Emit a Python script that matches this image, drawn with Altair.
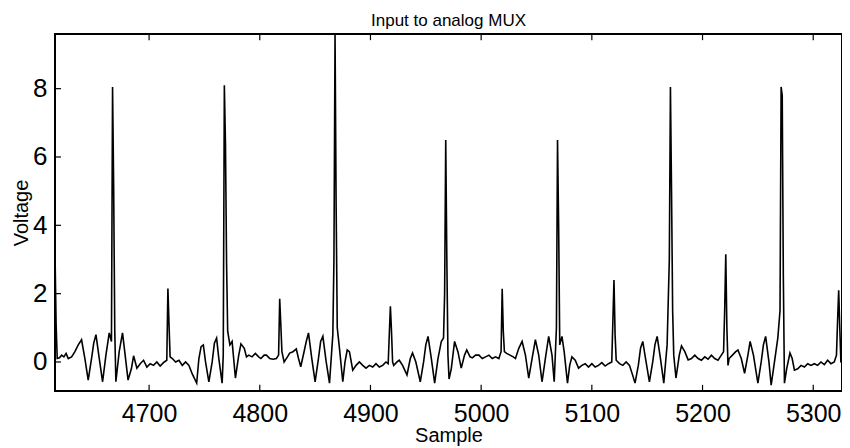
import altair as alt
import pandas as pd

# ---- data ----
sample = [
    4615, 4616, 4617, 4619, 4621, 4623, 4625, 4627, 4630, 4633, 4636, 4639, 4642, 4645, 4648, 4650,
    4652, 4655, 4658, 4661, 4664, 4666, 4667, 4668, 4669, 4670, 4673, 4676, 4678, 4681, 4684, 4686,
    4689, 4692, 4695, 4698, 4701, 4704, 4707, 4710, 4713, 4716, 4717, 4718, 4719, 4721, 4724, 4727,
    4730, 4733, 4736, 4739, 4743, 4745, 4747, 4749, 4751, 4754, 4757, 4759, 4761, 4763, 4766, 4767,
    4768, 4769, 4770, 4771, 4773, 4775, 4778, 4781, 4783, 4786, 4788, 4790, 4793, 4796, 4799, 4801,
    4804, 4806, 4809, 4812, 4815, 4817, 4818, 4819, 4820, 4822, 4825, 4827, 4830, 4833, 4835, 4837,
    4840, 4842, 4844, 4847, 4850, 4853, 4855, 4857, 4860, 4863, 4866, 4867, 4868, 4869, 4870, 4872,
    4875, 4877, 4879, 4881, 4884, 4887, 4890, 4893, 4896, 4899, 4902, 4905, 4908, 4911, 4914, 4916,
    4918, 4919, 4920, 4921, 4924, 4926, 4929, 4933, 4936, 4938, 4941, 4945, 4948, 4950, 4952, 4955,
    4958, 4961, 4964, 4966, 4967, 4968, 4969, 4970, 4971, 4973, 4976, 4979, 4982, 4985, 4987, 4990,
    4992, 4995, 4998, 5001, 5004, 5007, 5010, 5013, 5016, 5018, 5019, 5020, 5021, 5023, 5026, 5029,
    5031, 5034, 5037, 5040, 5043, 5046, 5049, 5052, 5055, 5058, 5061, 5064, 5066, 5068, 5069, 5070,
    5071, 5073, 5075, 5078, 5080, 5082, 5085, 5088, 5091, 5094, 5097, 5100, 5103, 5106, 5109, 5112,
    5115, 5118, 5119, 5120, 5121, 5122, 5125, 5128, 5131, 5134, 5137, 5139, 5142, 5144, 5146, 5149,
    5152, 5155, 5157, 5159, 5162, 5165, 5168, 5170, 5171, 5172, 5173, 5174, 5176, 5179, 5181, 5184,
    5187, 5190, 5193, 5196, 5199, 5202, 5205, 5208, 5211, 5214, 5217, 5219, 5220, 5221, 5222, 5223,
    5224, 5227, 5230, 5232, 5235, 5238, 5241, 5243, 5246, 5250, 5253, 5255, 5257, 5260, 5262, 5265,
    5268, 5270, 5271, 5272, 5273, 5274, 5276, 5279, 5281, 5283, 5286, 5289, 5292, 5295, 5298, 5301,
    5304, 5307, 5310, 5313, 5316, 5319, 5321, 5322, 5323, 5324, 5325, 5327, 5330,
]
voltage = [
    3.2, 1.1, 0.1, 0.12, 0.2, 0.15, 0.25, 0.1, 0.15, 0.3, 0.5, 0.65, 0.1, -0.53, 0.1, 0.55,
    0.8, 0.1, -0.58, 0.2, 0.85, 0.6, 8.05, 5.1, 0.9, -0.58, 0.3, 0.85, 0.3, -0.53, -0.2, 0.18,
    -0.18, -0.05, 0.05, -0.15, -0.05, -0.1, 0.0, -0.12, -0.02, 0.05, 2.15, 1.1, 0.15, 0.1, 0.0, 0.05,
    -0.1, 0.0, -0.1, -0.35, -0.62, 0.1, 0.45, 0.5, 0.0, -0.58, 0.0, 0.55, 0.7, 0.1, -0.62, 0.2,
    8.1, 6.4, 2.9, 0.9, 0.5, 0.6, -0.47, 0.2, 0.53, 0.4, 0.15, 0.2, 0.15, 0.25, 0.15, 0.1,
    0.2, 0.2, 0.1, 0.08, 0.1, 0.2, 1.85, 1.1, 0.3, 0.0, 0.15, 0.26, 0.3, 0.38, 0.1, -0.14,
    0.3, 0.6, 0.85, 0.1, -0.58, 0.1, 0.6, 0.75, 0.0, -0.62, 0.8, 3.0, 9.6, 4.5, 1.0, 0.4,
    -0.58, 0.0, 0.35, 0.3, -0.24, -0.1, 0.0, -0.1, -0.18, -0.1, -0.15, -0.05, -0.15, -0.1, 0.0, -0.05,
    1.63, 0.9, 0.0, -0.1, 0.0, 0.05, -0.1, -0.38, 0.1, 0.26, 0.0, -0.58, 0.0, 0.5, 0.75, 0.1,
    -0.62, 0.1, 0.6, 0.7, 2.0, 6.5, 3.0, 0.2, -0.5, -0.2, 0.6, 0.3, -0.18, 0.2, 0.35, 0.15,
    0.12, 0.2, 0.2, 0.1, 0.15, 0.2, 0.1, 0.15, 0.1, 0.3, 2.14, 0.9, 0.3, 0.25, 0.2, 0.15,
    0.1, 0.4, 0.6, 0.2, -0.47, 0.1, 0.65, 0.2, -0.58, 0.1, 0.75, 0.2, -0.58, 1.0, 6.5, 4.0,
    0.5, 0.75, 0.3, -0.62, -0.1, 0.15, 0.05, -0.18, -0.1, -0.05, -0.15, -0.05, -0.15, -0.1, -0.02, -0.12,
    -0.05, 0.0, 1.2, 2.4, 0.8, 0.05, -0.05, -0.1, 0.0, -0.1, -0.4, -0.62, -0.1, 0.4, 0.6, 0.0,
    -0.58, 0.0, 0.5, 0.75, 0.1, -0.62, 0.5, 3.0, 8.05, 5.0, 1.5, 0.2, -0.47, 0.2, 0.47, 0.3,
    0.06, 0.1, 0.2, 0.1, 0.05, 0.15, 0.08, 0.2, 0.1, 0.05, 0.2, 0.3, 1.5, 3.15, 1.0, -0.1,
    0.1, 0.2, 0.3, 0.35, 0.1, -0.33, 0.2, 0.6, 0.2, -0.62, 0.0, 0.5, 0.75, 0.0, -0.68, 0.0,
    0.7, 1.5, 8.05, 7.8, 2.5, -0.62, -0.2, 0.26, 0.1, -0.24, -0.2, -0.1, -0.15, -0.05, -0.1, -0.05,
    -0.1, 0.0, -0.08, 0.05, -0.05, 0.0, 0.2, 1.2, 2.1, 1.0, 0.0, -0.05, -0.05,
]
x_ticks = [4700, 4800, 4900, 5000, 5100, 5200, 5300]
y_ticks = [0, 2, 4, 6, 8]
x_domain = [4615, 5326]
y_domain = [-0.85, 9.6]
title_text = "Input to analog MUX"
x_title = "Sample"
y_title = "Voltage"

FONT = "Liberation Sans"

df = pd.DataFrame({"Sample": sample, "Voltage": voltage})

# inward tick marks (MATLAB style), built from the tick lists
tick_len_v = 0.18   # length of x ticks, in voltage units
tick_len_s = 5.4    # length of y ticks, in sample units
rows = []
for t in x_ticks:
    rows.append(dict(tx=t, tx2=t, ty=y_domain[0], ty2=y_domain[0] + tick_len_v))
    rows.append(dict(tx=t, tx2=t, ty=y_domain[1], ty2=y_domain[1] - tick_len_v))
for t in y_ticks:
    rows.append(dict(tx=x_domain[0], tx2=x_domain[0] + tick_len_s, ty=t, ty2=t))
ticks_df = pd.DataFrame(rows)

xs = alt.Scale(domain=x_domain, nice=False, zero=False)
ys = alt.Scale(domain=y_domain, nice=False, zero=False)

x_axis = alt.Axis(values=x_ticks, format="d", labelFont=FONT, labelFontSize=25,
                  labelColor="black", ticks=False, tickSize=0, domain=False, grid=False,
                  labelPadding=10, labelFlush=False, titleFont=FONT, titleFontSize=20,
                  titleFontWeight="normal", titleColor="black", titleY=50,
                  titleBaseline="alphabetic")
y_axis = alt.Axis(values=y_ticks, format="d", labelFont=FONT, labelFontSize=26,
                  labelColor="black", ticks=False, tickSize=0, domain=False, grid=False,
                  labelPadding=8, labelFlush=False, titleFont=FONT, titleFontSize=20,
                  titleFontWeight="normal", titleColor="black", titleX=-28, titleY=178.5,
                  titleAngle=270, titleBaseline="alphabetic", titleAlign="center")

line = alt.Chart(df).mark_line(color="black", strokeWidth=1.6, clip=True).encode(
    x=alt.X("Sample:Q", scale=xs, title=x_title, axis=x_axis),
    y=alt.Y("Voltage:Q", scale=ys, title=y_title, axis=y_axis),
)

tick_marks = alt.Chart(ticks_df).mark_rule(color="black", strokeWidth=1.2).encode(
    x=alt.X("tx:Q", scale=xs, title=x_title, axis=x_axis),
    x2="tx2:Q",
    y=alt.Y("ty:Q", scale=ys, title=y_title, axis=y_axis),
    y2="ty2:Q",
)

chart = alt.layer(line, tick_marks).properties(
    width=787,
    height=357,
    autosize=alt.AutoSizeParams(type="none"),
    padding={"left": 47, "top": 26, "right": 0, "bottom": 56},
    background="white",
    title=alt.TitleParams(title_text, font=FONT, fontSize=17, fontWeight="normal",
                          color="black", offset=10, dy=20, baseline="alphabetic",
                          frame="group", anchor="middle"),
).configure_view(stroke="black", strokeWidth=2)

chart.save("out.html", embed_options={"renderer": "svg", "actions": False})
